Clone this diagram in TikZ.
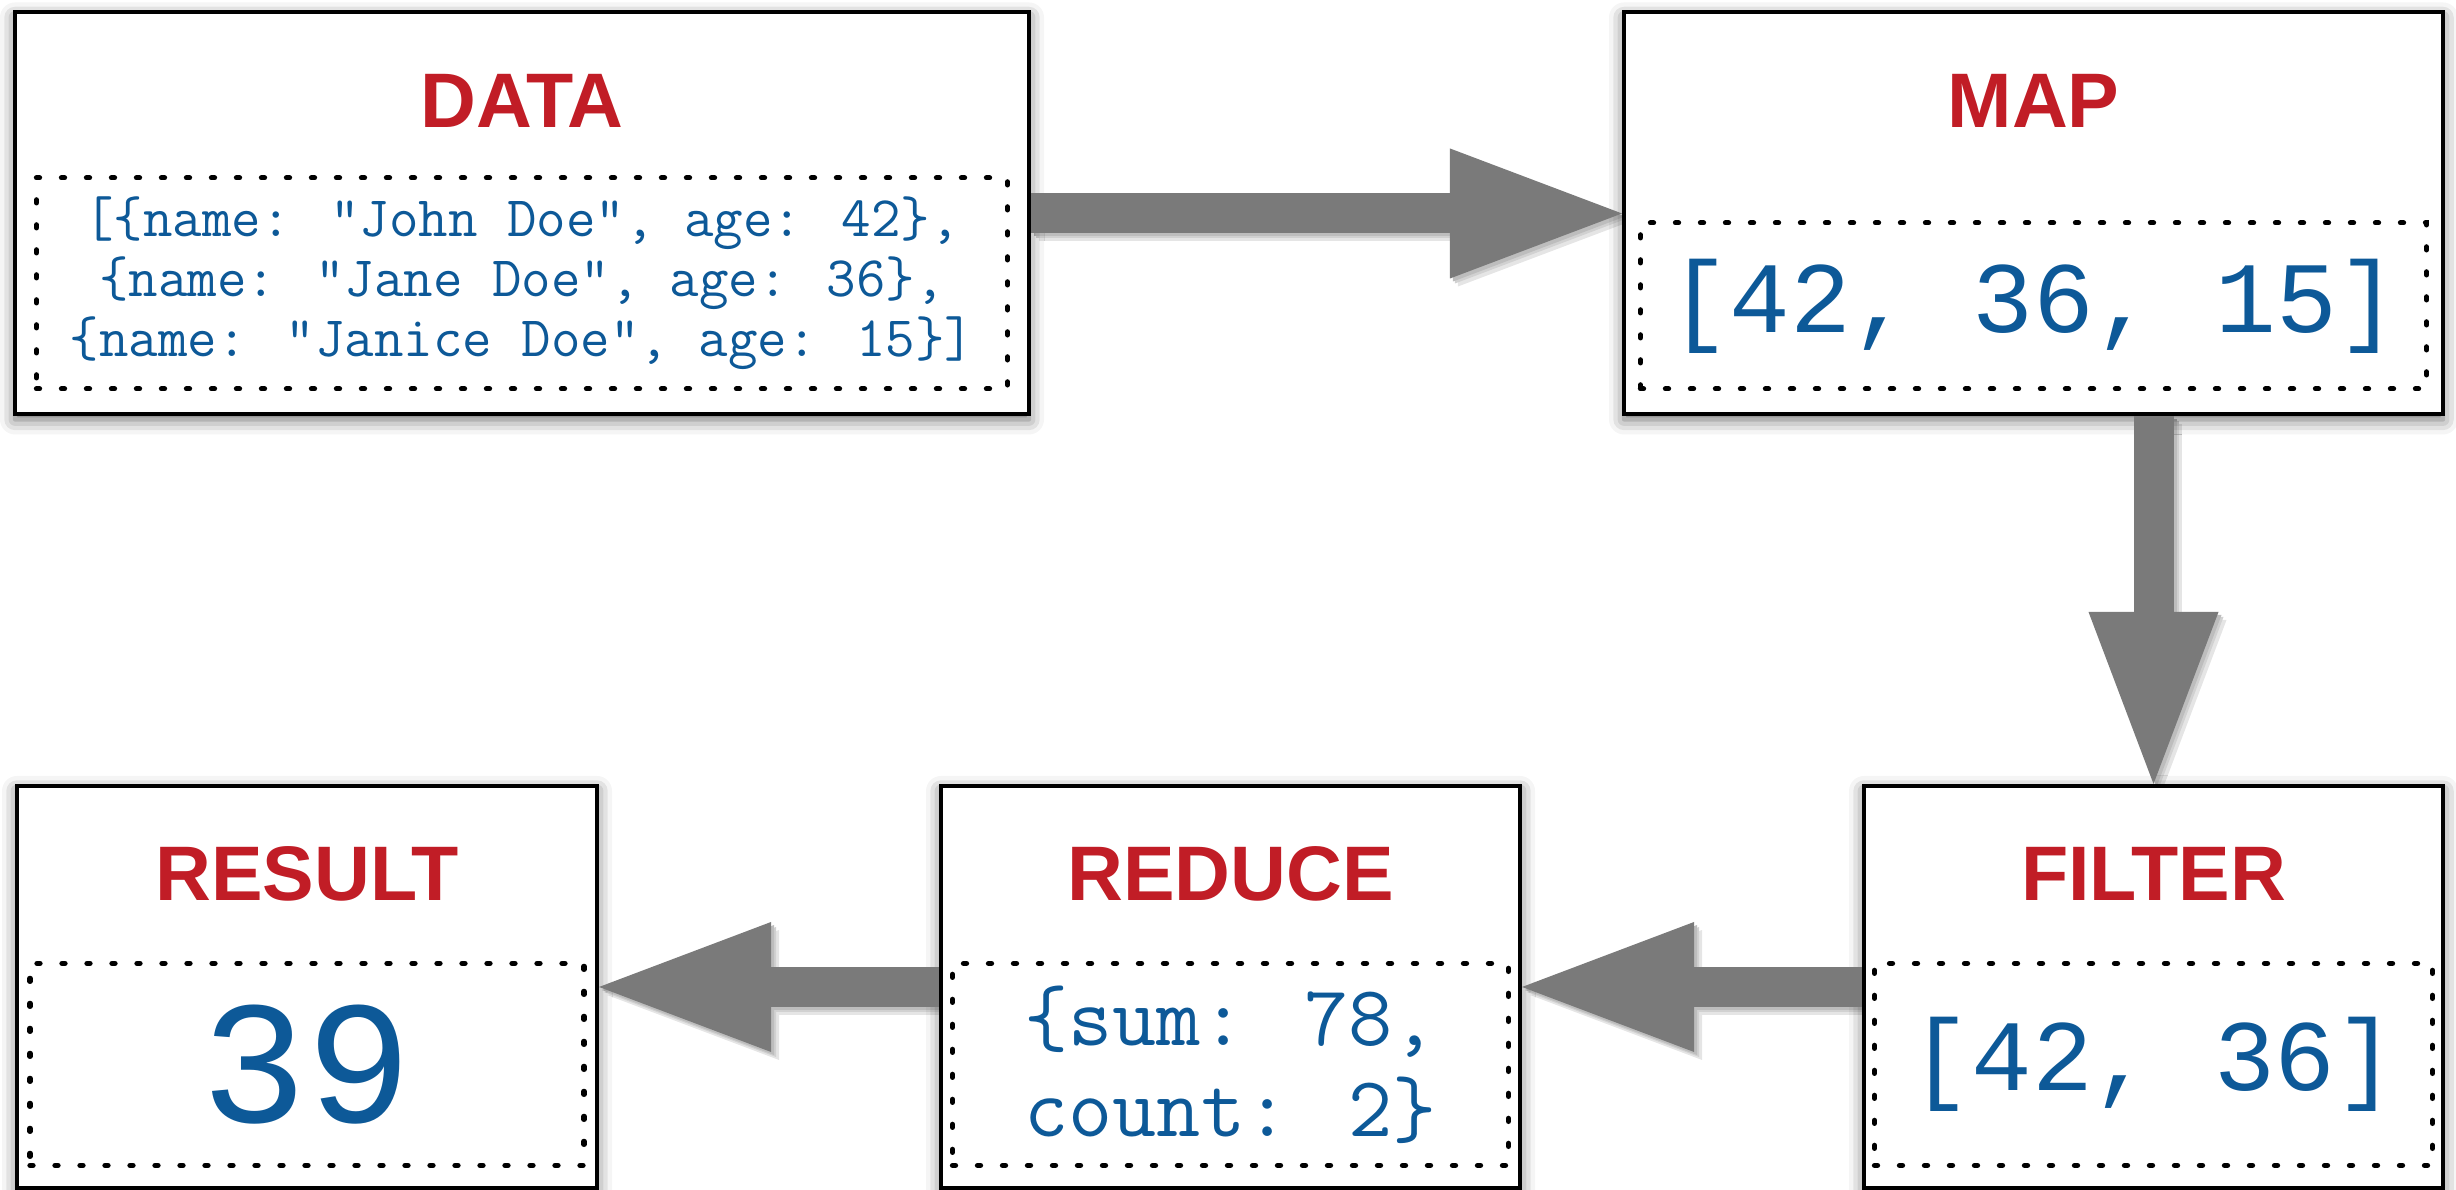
\documentclass[tikz,border=0pt]{standalone}
\usepackage{fontspec}
\newfontfamily\headfont{Liberation Sans}
\newfontfamily\codefont{Liberation Mono}
\usepackage{tikz}
\usetikzlibrary{arrows.meta,positioning,backgrounds,shadows.blur}
\definecolor{headcol}{RGB}{193,29,38}
\definecolor{codecol}{RGB}{13,89,152}
\definecolor{flowcol}{RGB}{122,122,122}
\tikzset{
  stage/.style={draw, line width=1.15pt, fill=white, inner sep=0pt, minimum width=#1, minimum height=4.02cm,
    blur shadow={shadow xshift=0pt, shadow yshift=-0.05cm, shadow blur radius=0.15cm, shadow opacity=60}},
  head/.style={anchor=base, text=headcol, font=\headfont\bfseries\fontsize{22}{26}\selectfont},
  slot/.style={draw, line width=1.5pt, dash pattern=on 0.03cm off 0.22cm, line cap=round, anchor=south,
    inner sep=0pt, minimum width=#1, text=codecol, align=center},
  small/.style={font=\ttfamily\fontsize{16.3}{17}\selectfont},
  mid/.style={font=\ttfamily\fontsize{24.4}{25.9}\selectfont},
  big/.style={font=\codefont\fontsize{28.8}{32}\selectfont},
  huge/.style={font=\codefont\fontsize{50}{56}\selectfont},
  flow/.style={flowcol, line width=0.4cm, -{Triangle[length=1.72cm, width=1.3cm, line width=0pt]}},
  flowshade/.style={flow, black!#1},
}
\begin{document}
\begin{tikzpicture}
  \useasboundingbox (0,0) rectangle (24.56,11.90);
  \node[stage=10.14cm] (data) at (5.22,9.765) {};
  \node[stage=8.19cm] (map) at (20.335,9.765) {};
  \node[stage=5.80cm] (result) at (3.07,2.03) {};
  \node[stage=5.79cm] (reduce) at (12.305,2.03) {};
  \node[stage=5.79cm] (filter) at (21.535,2.03) {};

  \node[head] (datahead) at ([yshift=-1.17cm]data.north) {DATA};
  \node[head] (maphead) at ([yshift=-1.17cm]map.north) {MAP};
  \node[head] (resulthead) at ([yshift=-1.17cm]result.north) {RESULT};
  \node[head] (reducehead) at ([yshift=-1.17cm]reduce.north) {REDUCE};
  \node[head] (filterhead) at ([yshift=-1.17cm]filter.north) {FILTER};

  \node[slot=9.71cm, minimum height=2.11cm, small] (datain) at ([yshift=0.25cm]data.south)
    {[\{name: "John Doe", age: 42\},\\\{name: "Jane Doe", age: 36\},\\\{name: "Janice Doe", age: 15\}]};
  \node[slot=7.86cm, minimum height=1.66cm, big] (mapin) at ([yshift=0.25cm]map.south) {[42, 36, 15]};
  \node[slot=5.54cm, minimum height=2.02cm, huge] (resultin) at ([yshift=0.22cm]result.south) {39};
  \node[slot=5.56cm, minimum height=2.02cm, mid] (reducein) at ([yshift=0.22cm]reduce.south) {\{sum: 78,\\count: 2\}};
  \node[slot=5.58cm, minimum height=2.02cm, big] (filterin) at ([yshift=0.22cm]filter.south) {[42, 36]};

  \begin{scope}[on background layer]
    \foreach \d/\c in {0.08/10,0.05/18,0.03/26} {
      \begin{scope}[transform canvas={xshift=\d cm, yshift=-\d cm}]
        \draw[flowshade=\c] (data) -- (map);
        \draw[flowshade=\c] (filter.north |- map.south) -- (filter.north);
        \draw[flowshade=\c] (filter) -- (reduce);
        \draw[flowshade=\c] (reduce) -- (result);
      \end{scope}
    }
  \end{scope}
  \draw[flow] (data) -- (map);
  \draw[flow] (filter.north |- map.south) -- (filter.north);
  \draw[flow] (filter) -- (reduce);
  \draw[flow] (reduce) -- (result);
\end{tikzpicture}
\end{document}
